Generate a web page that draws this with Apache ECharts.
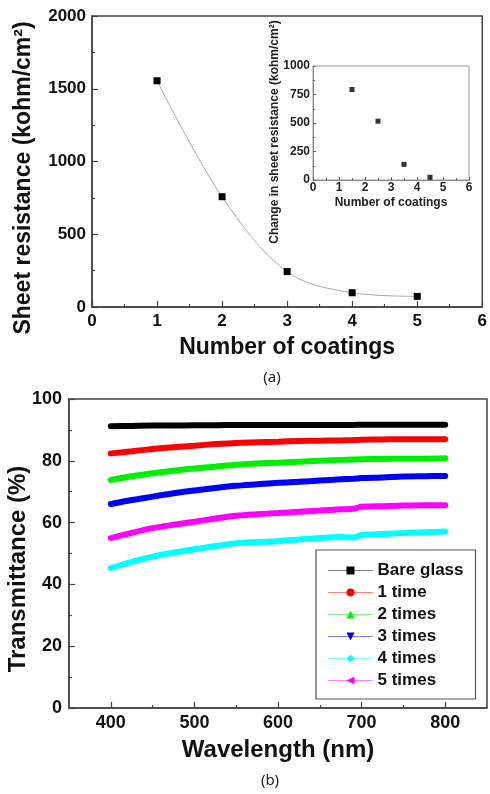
<!DOCTYPE html>
<html>
<head>
<meta charset="utf-8">
<script src="https://cdn.jsdelivr.net/npm/echarts@6/dist/echarts.min.js"></script>
<style>html,body{margin:0;padding:0;background:#fff}#c{width:490px;height:794px}</style>
</head>
<body>
<div id="c"></div>
<script>
// ---- Panel (a) data ----
const coatings = [1, 2, 3, 4, 5];
const sheetResistance = [1555, 758, 243, 98, 73];
const insetCoatings = [1.5, 2.5, 3.5, 4.5];
const resistanceChange = [794, 516, 137, 24];
const topXTicks = [0, 1, 2, 3, 4, 5, 6];
const topYTicks = [0, 500, 1000, 1500, 2000];

// ---- Panel (b) data ----
const wavelengths = [400, 425, 450, 475, 500, 525, 550, 575, 600, 625, 650, 675, 690, 700, 725, 750, 775, 800];
const bareGlass = [91.2, 91.3, 91.4, 91.4, 91.5, 91.5, 91.6, 91.6, 91.6, 91.6, 91.6, 91.6, 91.6, 91.7, 91.7, 91.7, 91.7, 91.7];
const oneTime   = [82.4, 83.1, 83.8, 84.4, 84.9, 85.4, 85.8, 86.0, 86.2, 86.4, 86.5, 86.6, 86.7, 86.8, 86.9, 87.0, 87.0, 87.0];
const twoTimes  = [73.8, 75.0, 76.0, 76.8, 77.5, 78.1, 78.7, 79.1, 79.4, 79.7, 80.0, 80.3, 80.4, 80.5, 80.6, 80.7, 80.7, 80.8];
const threeTimes= [66.0, 67.3, 68.4, 69.5, 70.4, 71.2, 71.9, 72.4, 72.9, 73.2, 73.6, 74.0, 74.2, 74.4, 74.6, 74.9, 75.0, 75.1];
const fourTimes = [45.3, 47.3, 49.0, 50.3, 51.4, 52.4, 53.3, 53.7, 54.0, 54.5, 55.0, 55.3, 55.2, 56.0, 56.3, 56.6, 56.9, 57.1];
const fiveTimes = [55.0, 56.7, 58.2, 59.3, 60.3, 61.3, 62.2, 62.7, 63.1, 63.5, 63.9, 64.3, 64.5, 65.1, 65.3, 65.5, 65.6, 65.6];
const seriesNames = ['Bare glass', '1 time', '2 times', '3 times', '4 times', '5 times'];
const wlMajorTicks = [400, 500, 600, 700, 800];
const wlMinorTicks = [450, 550, 650, 750];
const tYTicks = [0, 20, 40, 60, 80, 100];

const FONT = '"Liberation Sans", Arial, sans-serif';
const AX = '#444';
const plain = v => String(v);

const chart = echarts.init(document.getElementById('c'), null, {renderer: 'canvas'});

function pairs(xs, ys) { return xs.map((x, i) => [x, ys[i]]); }

const bottomSeries = [
  {name: seriesNames[0], data: bareGlass, color: '#000000', symbol: 'rect', rot: 0},
  {name: seriesNames[1], data: oneTime, color: '#ff0000', symbol: 'circle', rot: 0},
  {name: seriesNames[2], data: twoTimes, color: '#00ee00', symbol: 'triangle', rot: 0},
  {name: seriesNames[3], data: threeTimes, color: '#0000ff', symbol: 'triangle', rot: 180},
  {name: seriesNames[4], data: fourTimes, color: '#00ffff', symbol: 'diamond', rot: 0},
  {name: seriesNames[5], data: fiveTimes, color: '#ff00ff', symbol: 'triangle', rot: 90}
].map(s => ({
  type: 'line', name: s.name, xAxisIndex: 2, yAxisIndex: 2,
  data: pairs(wavelengths, s.data),
  showSymbol: false, symbol: s.symbol, symbolRotate: s.rot, symbolSize: 8,
  smooth: 0.3,
  itemStyle: {color: s.color},
  lineStyle: {color: s.color, width: 6, cap: 'round'},
  z: 3
}));

const option = {
  animation: false,
  textStyle: {fontFamily: FONT},
  grid: [
    {left: 92, top: 16, width: 395, height: 291, show: true, borderColor: AX, borderWidth: 1.5, backgroundColor: 'transparent'},
    {left: 313, top: 66, width: 156, height: 114, show: true, borderColor: '#999', borderWidth: 1, backgroundColor: 'transparent'},
    {left: 69, top: 399, width: 418, height: 309, show: true, borderColor: AX, borderWidth: 1.5, backgroundColor: 'transparent'}
  ],
  xAxis: [
    {gridIndex: 0, type: 'value', min: topXTicks[0], max: topXTicks[topXTicks.length - 1], interval: 1,
     name: 'Number of coatings', nameLocation: 'middle', nameGap: 29,
     nameTextStyle: {fontFamily: FONT, fontWeight: 'bold', fontSize: 23, color: '#111'},
     axisLine: {lineStyle: {color: AX, width: 1.5}},
     axisTick: {inside: true, length: 6, lineStyle: {color: AX, width: 1.2}},
     minorTick: {show: true, splitNumber: 2, length: 3, lineStyle: {color: AX, width: 1.2}},
     axisLabel: {formatter: plain, fontFamily: FONT, fontWeight: 'bold', fontSize: 17, color: '#111', margin: 6},
     splitLine: {show: false}},
    {gridIndex: 1, type: 'value', min: 0, max: 6, interval: 1,
     name: 'Number of coatings', nameLocation: 'middle', nameGap: 17,
     nameTextStyle: {fontFamily: FONT, fontWeight: 'bold', fontSize: 12, color: '#222'},
     axisLine: {lineStyle: {color: '#888', width: 1}},
     axisTick: {inside: true, length: 3, lineStyle: {color: '#666'}},
     minorTick: {show: true, splitNumber: 2, length: 2, lineStyle: {color: '#666'}},
     axisLabel: {formatter: plain, fontFamily: FONT, fontWeight: 'bold', fontSize: 12, color: '#222', margin: 2},
     splitLine: {show: false}},
    {gridIndex: 2, type: 'value', min: 350, max: 850,
     name: 'Wavelength (nm)', nameLocation: 'middle', nameGap: 30,
     nameTextStyle: {fontFamily: FONT, fontWeight: 'bold', fontSize: 24, color: '#111'},
     axisLine: {lineStyle: {color: AX, width: 1.5}},
     axisTick: {inside: true, length: 6, customValues: wlMajorTicks, lineStyle: {color: AX, width: 1.2}},
     axisLabel: {customValues: wlMajorTicks, formatter: plain, fontFamily: FONT, fontWeight: 'bold', fontSize: 18, color: '#111', margin: 6},
     splitLine: {show: false}},
    {gridIndex: 2, type: 'value', min: 350, max: 850, position: 'bottom',
     axisLine: {show: false},
     axisTick: {inside: true, length: 3, customValues: wlMinorTicks, lineStyle: {color: AX, width: 1.2}},
     axisLabel: {show: false}, splitLine: {show: false}}
  ],
  yAxis: [
    {gridIndex: 0, type: 'value', min: topYTicks[0], max: topYTicks[topYTicks.length - 1], interval: 500,
     axisLine: {lineStyle: {color: AX, width: 1.5}},
     axisTick: {inside: true, length: 6, lineStyle: {color: AX, width: 1.2}},
     minorTick: {show: true, splitNumber: 2, length: 3, lineStyle: {color: AX, width: 1.2}},
     axisLabel: {formatter: plain, fontFamily: FONT, fontWeight: 'bold', fontSize: 17, color: '#111', margin: 6},
     splitLine: {show: false}},
    {gridIndex: 1, type: 'value', min: 0, max: 1000, interval: 250,
     axisLine: {lineStyle: {color: '#888', width: 1}},
     axisTick: {inside: true, length: 3, lineStyle: {color: '#666'}},
     minorTick: {show: true, splitNumber: 2, length: 2, lineStyle: {color: '#666'}},
     axisLabel: {formatter: plain, fontFamily: FONT, fontWeight: 'bold', fontSize: 12, color: '#222', margin: 3},
     splitLine: {show: false}},
    {gridIndex: 2, type: 'value', min: tYTicks[0], max: tYTicks[tYTicks.length - 1], interval: 20,
     axisLine: {lineStyle: {color: AX, width: 1.5}},
     axisTick: {inside: true, length: 6, lineStyle: {color: AX, width: 1.2}},
     minorTick: {show: true, splitNumber: 2, length: 3, lineStyle: {color: AX, width: 1.2}},
     axisLabel: {formatter: plain, fontFamily: FONT, fontWeight: 'bold', fontSize: 18, color: '#111', margin: 7},
     splitLine: {show: false}}
  ],
  legend: {
    data: seriesNames,
    orient: 'vertical', left: 316, top: 550,
    padding: [12, 12, 10, 12],
    itemWidth: 44, itemHeight: 10, itemGap: 5,
    borderColor: '#555', borderWidth: 1.2, backgroundColor: '#fff',
    lineStyle: {width: 1, opacity: 0.5},
    textStyle: {fontFamily: FONT, fontWeight: 'bold', fontSize: 17, color: '#111', padding: [0, 0, 0, 0]},
    itemStyle: {borderWidth: 0}
  },
  graphic: [
    {type: 'text', x: 24, y: 178, rotation: Math.PI / 2,
     style: {text: 'Sheet resistance (kohm/cm²)', font: 'bold 23px ' + FONT, fill: '#111', align: 'center', verticalAlign: 'middle'}},
    {type: 'text', x: 18, y: 569, rotation: Math.PI / 2,
     style: {text: 'Transmittance (%)', font: 'bold 24px ' + FONT, fill: '#111', align: 'center', verticalAlign: 'middle'}},
    {type: 'text', x: 274.5, y: 132, rotation: Math.PI / 2,
     style: {text: 'Change in sheet resistance (kohm/cm²)', font: 'bold 12px ' + FONT, fill: '#222', align: 'center', verticalAlign: 'middle'}},
    {type: 'text', x: 272, y: 378,
     style: {text: '(a)', font: '15px "Noto Sans", sans-serif', fill: '#222', align: 'center', verticalAlign: 'middle'}},
    {type: 'text', x: 270, y: 781,
     style: {text: '(b)', font: '15px "Noto Sans", sans-serif', fill: '#222', align: 'center', verticalAlign: 'middle'}}
  ],
  series: [
    {type: 'line', xAxisIndex: 0, yAxisIndex: 0, data: pairs(coatings, sheetResistance),
     symbol: 'rect', symbolSize: 7, smooth: 0.35,
     itemStyle: {color: '#000'}, lineStyle: {color: '#aaa', width: 1}, z: 3},
    {type: 'scatter', xAxisIndex: 1, yAxisIndex: 1, data: pairs(insetCoatings, resistanceChange),
     symbol: 'rect', symbolSize: 5, itemStyle: {color: '#000'}, z: 3}
  ].concat(bottomSeries)
};

chart.setOption(option);
</script>
</body>
</html>
